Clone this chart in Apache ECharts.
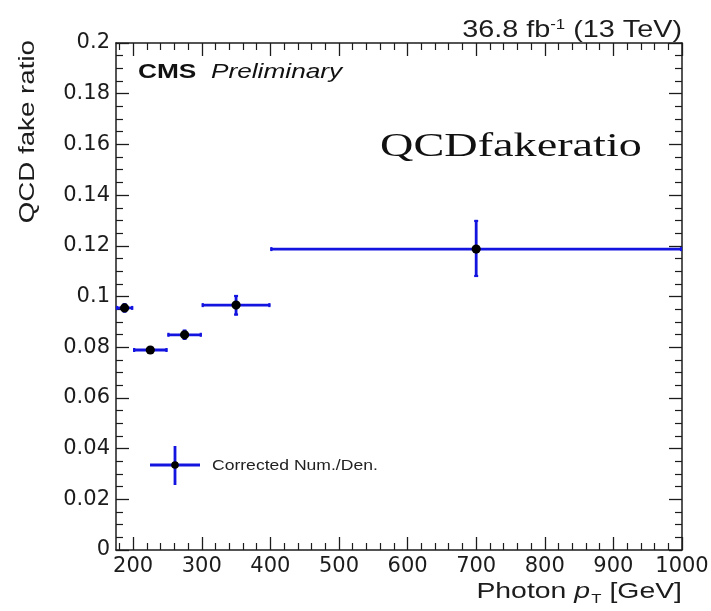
<!DOCTYPE html>
<html>
<head>
<meta charset="utf-8">
<script src="https://cdn.jsdelivr.net/npm/echarts@6/dist/echarts.min.js"></script>
<style>html,body{margin:0;padding:0;background:#fff;}#c{width:711px;height:611px;}</style>
</head>
<body>
<div id="c"></div>
<script>
// ---- data ----
const binLow    = [175, 200, 250, 300, 400];
const binHigh   = [200, 250, 300, 400, 1000];
const ptCenter  = [187.5, 225, 275, 350, 700];
const fakeRatio = [0.0955, 0.0789, 0.0849, 0.0966, 0.1187];
const errLow    = [0.0937, 0.0781, 0.0829, 0.0925, 0.1077];
const errHigh   = [0.0973, 0.0797, 0.0869, 0.1006, 0.1302];

const xTickLabels = [200, 300, 400, 500, 600, 700, 800, 900, 1000];
const xMinorTicks = [];
for (let v = 180; v <= 1000; v += 20) { if (v % 100 !== 0) xMinorTicks.push(v); }

const seriesName = 'Corrected Num./Den.';
const lumiText = '36.8 fb';
const yTitle = 'QCD fake ratio';

const BLUE = '#1414e0';
const INK = '#1c1c1c';

const data = binLow.map((lo, i) => [lo, binHigh[i], ptCenter[i], fakeRatio[i], errLow[i], errHigh[i]]);

const chart = echarts.init(document.getElementById('c'), null, {renderer: 'canvas'});

const axisBase = {
  type: 'value', min: 175, max: 1000, gridIndex: 0,
  splitLine: {show: false}
};

const option = {
  backgroundColor: '#ffffff',
  animation: false,
  grid: {left: 116, right: 29, top: 43, bottom: 61, outerBoundsMode: 'none'},
  xAxis: [
    Object.assign({}, axisBase, {
      position: 'bottom',
      axisLine: {show: true, onZero: false, lineStyle: {color: INK, width: 1.5}},
      axisTick: {show: true, inside: true, length: 13, customValues: xTickLabels, lineStyle: {color: INK, width: 1.3}},
      axisLabel: {show: true, customValues: xTickLabels, margin: 6, color: INK, fontSize: 21, fontFamily: 'DejaVu Sans',
                  formatter: function (v) { return String(v); }}
    }),
    Object.assign({}, axisBase, {
      position: 'bottom',
      axisLine: {show: false, onZero: false},
      axisTick: {show: true, inside: true, length: 7, customValues: xMinorTicks, lineStyle: {color: INK, width: 1.2}},
      axisLabel: {show: false}
    }),
    Object.assign({}, axisBase, {
      position: 'top',
      axisLine: {show: true, onZero: false, lineStyle: {color: INK, width: 1.5}},
      axisTick: {show: true, inside: true, length: 13, customValues: xTickLabels, lineStyle: {color: INK, width: 1.3}},
      axisLabel: {show: false}
    }),
    Object.assign({}, axisBase, {
      position: 'top',
      axisLine: {show: false, onZero: false},
      axisTick: {show: true, inside: true, length: 7, customValues: xMinorTicks, lineStyle: {color: INK, width: 1.2}},
      axisLabel: {show: false}
    })
  ],
  yAxis: [
    {
      type: 'value', min: 0, max: 0.2, interval: 0.02, position: 'left',
      splitLine: {show: false},
      axisLine: {show: true, onZero: false, lineStyle: {color: INK, width: 1.5}},
      axisTick: {show: true, inside: true, length: 13, lineStyle: {color: INK, width: 1.3}},
      minorTick: {show: true, splitNumber: 4, length: 7, lineStyle: {color: INK, width: 1.2}},
      axisLabel: {show: true, margin: 6, color: INK, fontSize: 21, fontFamily: 'DejaVu Sans'}
    },
    {
      type: 'value', min: 0, max: 0.2, interval: 0.02, position: 'right',
      splitLine: {show: false},
      axisLine: {show: true, onZero: false, lineStyle: {color: INK, width: 1.5}},
      axisTick: {show: true, inside: true, length: 13, lineStyle: {color: INK, width: 1.3}},
      minorTick: {show: true, splitNumber: 4, length: 7, lineStyle: {color: INK, width: 1.2}},
      axisLabel: {show: false}
    }
  ],
  series: [{
    type: 'custom',
    name: seriesName,
    xAxisIndex: 0, yAxisIndex: 0,
    clip: false,
    data: data,
    renderItem: function (params, api) {
      const lo = api.coord([api.value(0), api.value(3)]);
      const hi = api.coord([api.value(1), api.value(3)]);
      const c = api.coord([api.value(2), api.value(3)]);
      const eLo = api.coord([api.value(2), api.value(4)]);
      const eHi = api.coord([api.value(2), api.value(5)]);
      const ls = {stroke: BLUE, lineWidth: 2.8};
      const cs = {stroke: BLUE, lineWidth: 2.2};
      const cap = 2;
      return {
        type: 'group',
        children: [
          {type: 'line', shape: {x1: lo[0], y1: lo[1], x2: hi[0], y2: hi[1]}, style: ls},
          {type: 'line', shape: {x1: lo[0] + 1, y1: lo[1] - cap, x2: lo[0] + 1, y2: lo[1] + cap}, style: cs},
          {type: 'line', shape: {x1: hi[0] - 1, y1: hi[1] - cap, x2: hi[0] - 1, y2: hi[1] + cap}, style: cs},
          {type: 'line', shape: {x1: eLo[0], y1: eLo[1], x2: eHi[0], y2: eHi[1]}, style: ls},
          {type: 'line', shape: {x1: eLo[0] - cap, y1: eLo[1] - 1, x2: eLo[0] + cap, y2: eLo[1] - 1}, style: cs},
          {type: 'line', shape: {x1: eHi[0] - cap, y1: eHi[1] + 1, x2: eHi[0] + cap, y2: eHi[1] + 1}, style: cs},
          {type: 'circle', shape: {cx: c[0], cy: c[1], r: 4.6}, style: {fill: '#000'}}
        ]
      };
    }
  }],
  graphic: [
    // luminosity label
    {
      type: 'text', x: 682, y: 30, scaleX: 1.2,
      style: {
        text: '{a|' + lumiText + '}{s|-1}{a| (13 TeV)}',
        align: 'right', verticalAlign: 'middle',
        rich: {
          a: {fontSize: 24, fontFamily: 'Liberation Sans', fill: INK, verticalAlign: 'bottom'},
          s: {fontSize: 14, fontFamily: 'Liberation Sans', fill: INK, verticalAlign: 'top'}
        }
      }
    },
    // CMS Preliminary
    {
      type: 'text', x: 138, y: 72, scaleX: 1.25,
      style: {
        text: '{b|CMS}{i|  Preliminary}',
        align: 'left', verticalAlign: 'middle',
        rich: {
          b: {fontSize: 21, fontWeight: 'bold', fontFamily: 'Liberation Sans', fill: '#111'},
          i: {fontSize: 21, fontStyle: 'italic', fontFamily: 'Liberation Sans', fill: '#111'}
        }
      }
    },
    // overlay annotation
    {
      type: 'text', x: 380, y: 147, scaleX: 1.36,
      style: {
        text: 'QCDfakeratio', align: 'left', verticalAlign: 'middle',
        fontSize: 34, fontFamily: 'Liberation Serif', fill: '#111'
      }
    },
    // y-axis title
    {
      type: 'text', x: 28, y: 40, rotation: Math.PI / 2, scaleX: 1.26,
      style: {
        text: yTitle, align: 'right', verticalAlign: 'middle',
        fontSize: 22, fontFamily: 'Liberation Sans', fill: INK
      }
    },
    // x-axis title
    {
      type: 'text', x: 682, y: 592, scaleX: 1.29,
      style: {
        text: '{n|Photon }{i|p}{t|T}{n| [GeV]}',
        align: 'right', verticalAlign: 'middle',
        rich: {
          n: {fontSize: 22, fontFamily: 'Liberation Sans', fill: INK},
          i: {fontSize: 22, fontStyle: 'italic', fontFamily: 'Liberation Sans', fill: INK},
          t: {fontSize: 13, fontFamily: 'Liberation Sans', fill: INK, verticalAlign: 'bottom', padding: [14, 0, 0, 1]}
        }
      }
    },
    // legend
    {type: 'line', shape: {x1: 150, y1: 465, x2: 200, y2: 465}, style: {stroke: BLUE, lineWidth: 2.8}},
    {type: 'line', shape: {x1: 175, y1: 446, x2: 175, y2: 485}, style: {stroke: BLUE, lineWidth: 2.8}},
    {type: 'circle', shape: {cx: 175, cy: 465, r: 3.8}, style: {fill: '#000'}},
    {
      type: 'text', x: 212, y: 466, scaleX: 1.17,
      style: {text: seriesName, align: 'left', verticalAlign: 'middle', fontSize: 15, fontFamily: 'Liberation Sans', fill: '#222'}
    }
  ]
};

chart.setOption(option);
</script>
</body>
</html>
